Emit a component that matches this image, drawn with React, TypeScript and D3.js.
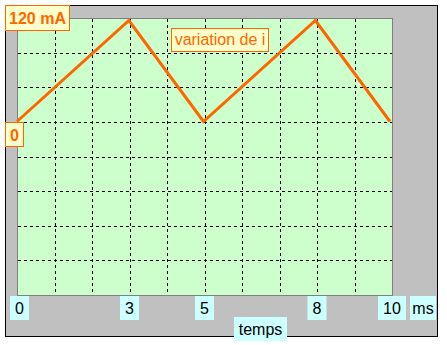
import React from "react";
import * as d3 from "d3";

const times = [0, 3, 5, 8, 10];
const currents = [0, 120, 0, 120, 0];
const xTickLabels = ["0", "3", "5", "8", "10"];
const xUnit = "ms";
const xTitle = "temps";
const yTopLabel = "120 mA";
const yZeroLabel = "0";
const seriesLabel = "variation de i";

const W = 447, H = 345;
const plot = { left: 17, top: 18, right: 392, bottom: 295 };
const FONT = "'Liberation Sans', Arial, sans-serif";
const ORANGE = "#FF6600";

export default function App() {
  const x = d3.scaleLinear().domain([0, 10]).range([plot.left, plot.right]);
  const xData = d3.scaleLinear().domain([0, 10]).range([plot.left, plot.right - 2]);
  const y = d3.scaleLinear().domain([0, 120]).range([121.5, 20.5]);
  const gridY = d3.scaleLinear().domain([0, 8]).range([plot.top, plot.bottom]);
  const line = d3.line<number>().x((_, i) => xData(times[i])).y((d) => y(d));
  const vGrid = d3.range(1, 10);
  const hGrid = d3.range(1, 8);

  return (
    <svg width={W} height={H} style={{ position: "absolute", left: 0, top: 0 }}>
      <rect x={5.5} y={5.5} width={432} height={331} fill="#C0C0C0" stroke="#000" strokeWidth={1} />
      <rect x={plot.left + 0.5} y={plot.top + 0.5} width={plot.right - plot.left} height={plot.bottom - plot.top}
        fill="#CCFFCC" stroke="#808080" strokeWidth={1} />
      {vGrid.map((v) => (
        <line key={"v" + v} x1={Math.round(x(v)) + 0.5} x2={Math.round(x(v)) + 0.5} y1={plot.top + 1} y2={plot.bottom}
          stroke="#000" strokeDasharray="3,3" strokeWidth={1} />
      ))}
      {hGrid.map((v) => (
        <line key={"h" + v} y1={Math.round(gridY(v)) + 0.5} y2={Math.round(gridY(v)) + 0.5} x1={plot.left + 1} x2={plot.right}
          stroke="#000" strokeDasharray="3,3" strokeWidth={1} />
      ))}
      <path d={line(currents) || ""} fill="none" stroke={ORANGE} strokeWidth={3} strokeLinejoin="miter" />

      {/* series label */}
      <rect x={171.5} y={28.5} width={97} height={23} fill="#FFFFCC" stroke={ORANGE} strokeWidth={1} />
      <text x={220} y={45} textAnchor="middle" fontFamily={FONT} fontSize={16} fill={ORANGE}>{seriesLabel}</text>

      {/* y labels */}
      <rect x={5.5} y={5.5} width={64} height={25} fill="#FFFFCC" stroke={ORANGE} strokeWidth={1} />
      <text x={37.5} y={24} textAnchor="middle" fontFamily={FONT} fontSize={16} fontWeight="bold" fill={ORANGE}>{yTopLabel}</text>
      <rect x={5.5} y={122.5} width={18} height={24} fill="#FFFFCC" stroke={ORANGE} strokeWidth={1} />
      <text x={14.5} y={141} textAnchor="middle" fontFamily={FONT} fontSize={16} fontWeight="bold" fill={ORANGE}>{yZeroLabel}</text>

      {/* x labels */}
      {times.map((t, i) => {
        const w = xTickLabels[i].length > 1 ? 28 : 19;
        const cx = Math.max(x(t), 10 + w / 2);
        return (
          <g key={"t" + t}>
            <rect x={cx - w / 2} y={296} width={w} height={24} fill="#CCFFFF" />
            <text x={cx} y={314} textAnchor="middle" fontFamily={FONT} fontSize={16} fill="#000">{xTickLabels[i]}</text>
          </g>
        );
      })}
      <rect x={410} y={296} width={26} height={24} fill="#CCFFFF" />
      <text x={423} y={314} textAnchor="middle" fontFamily={FONT} fontSize={16} fill="#000">{xUnit}</text>
      <rect x={234} y={317} width={53} height={24} fill="#CCFFFF" />
      <text x={260.5} y={335} textAnchor="middle" fontFamily={FONT} fontSize={16} fill="#000">{xTitle}</text>
    </svg>
  );
}
